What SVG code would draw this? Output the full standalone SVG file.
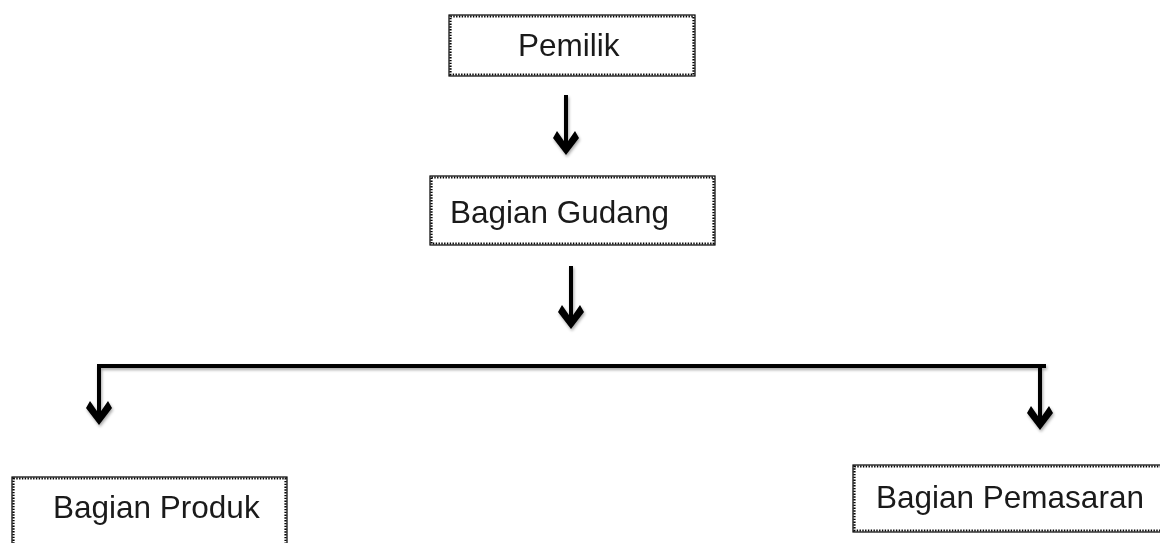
<svg xmlns="http://www.w3.org/2000/svg" xmlns:xlink="http://www.w3.org/1999/xlink" width="1160" height="543" viewBox="0 0 1160 543">
  <style>
    .box-solid { fill: #ffffff; stroke: #000000; stroke-width: 1.2; }
    .box-dots { fill: none; stroke: #000000; stroke-width: 2.2; stroke-dasharray: 1.4 1.4; }
    .label { font-family: "Liberation Sans", Arial, Helvetica, sans-serif; font-size: 31.5px; fill: #1a1a1a; }
    .conn { stroke: #000000; stroke-width: 4; fill: none; stroke-linecap: butt; }
    .head { fill: #000000; }
  </style>
  <defs>
    <filter id="shadow" x="-20%" y="-20%" width="140%" height="140%">
      <feDropShadow dx="1" dy="2" stdDeviation="1.5" flood-color="#000000" flood-opacity="0.35"/>
    </filter>
    <path id="arrowhead" class="head" d="M0,0 L-13,-17 L-9,-24 L0,-11 L9,-24 L13,-17 Z"/>
  </defs>
  <rect width="1160" height="543" fill="#ffffff"/>

  <g id="connectors" filter="url(#shadow)">
    <line class="conn" x1="566" y1="95" x2="566" y2="145"/>
    <use xlink:href="#arrowhead" x="566" y="155"/>
    <line class="conn" x1="571" y1="266" x2="571" y2="319"/>
    <use xlink:href="#arrowhead" x="571" y="329"/>
    <line class="conn" x1="97" y1="366" x2="1046" y2="366"/>
    <line class="conn" x1="99" y1="364" x2="99" y2="415"/>
    <use xlink:href="#arrowhead" x="99" y="425"/>
    <line class="conn" x1="1040" y1="364" x2="1040" y2="420"/>
    <use xlink:href="#arrowhead" x="1040" y="430"/>
  </g>

  <g id="node-pemilik">
    <rect class="box-solid" x="449" y="15" width="246" height="61"/>
    <rect class="box-dots" x="450.5" y="16.5" width="243" height="58"/>
    <text class="label" x="518" y="56">Pemilik</text>
  </g>

  <g id="node-gudang">
    <rect class="box-solid" x="430" y="176" width="285" height="69"/>
    <rect class="box-dots" x="431.5" y="177.5" width="282" height="66"/>
    <text class="label" x="450" y="223">Bagian Gudang</text>
  </g>

  <g id="node-produk">
    <rect class="box-solid" x="12" y="477" width="275" height="80"/>
    <rect class="box-dots" x="13.5" y="478.5" width="272" height="77"/>
    <text class="label" x="53" y="518">Bagian Produk</text>
  </g>

  <g id="node-pemasaran">
    <rect class="box-solid" x="853" y="465" width="320" height="67"/>
    <rect class="box-dots" x="854.5" y="466.5" width="317" height="64"/>
    <text class="label" x="876" y="508">Bagian Pemasaran</text>
  </g>
</svg>
